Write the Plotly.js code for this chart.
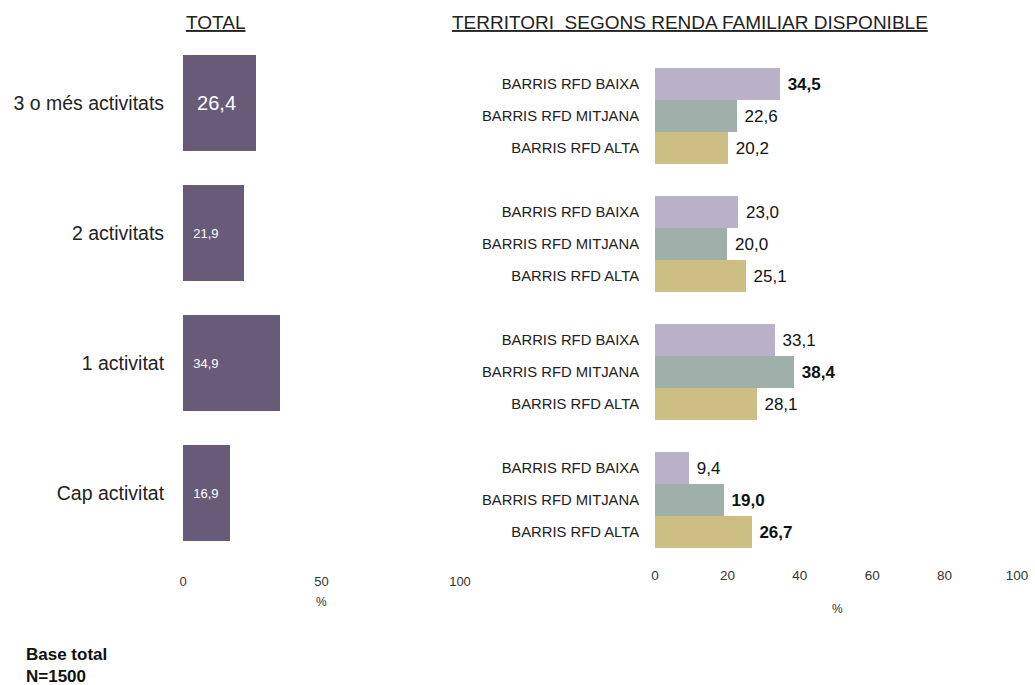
<!DOCTYPE html>
<html>
<head>
<meta charset="utf-8">
<script src="https://cdn.plot.ly/plotly-3.0.1.min.js"></script>
<style>html,body{margin:0;padding:0;background:#fff;}#chart{width:1035px;height:685px;}</style>
</head>
<body>
<div id="chart"></div>
<script>
// ---- data ----
const categories = ['3 o més activitats', '2 activitats', '1 activitat', 'Cap activitat'];
const totalValues = [26.4, 21.9, 34.9, 16.9];
const seriesNames = ['BARRIS RFD BAIXA', 'BARRIS RFD MITJANA', 'BARRIS RFD ALTA'];
const baixa = [34.5, 23.0, 33.1, 9.4];
const mitjana = [22.6, 20.0, 38.4, 19.0];
const alta = [20.2, 25.1, 28.1, 26.7];
const boldBaixa = [true, false, false, false];
const boldMitjana = [false, false, true, true];
const boldAlta = [false, false, false, true];
const leftTicks = [0, 50, 100];
const rightTicks = [0, 20, 40, 60, 80, 100];

// ---- helpers ----
const FONT = 'Arial, "Liberation Sans", sans-serif';
const fmt = v => v.toFixed(1).replace('.', ',');
const NB = '\u00a0';

const seriesValues = [baixa, mitjana, alta];
const seriesBold = [boldBaixa, boldMitjana, boldAlta];
const seriesColors = ['#b9b1c7', '#9fb0aa', '#cdbe84'];

const traces = [];
traces.push({
  type: 'bar', orientation: 'h',
  x: totalValues, y: categories,
  xaxis: 'x', yaxis: 'y',
  width: 0.74,
  marker: {color: '#675b78'},
  text: totalValues.map(v => NB + NB + fmt(v)),
  textposition: 'inside', insidetextanchor: 'start', textangle: 0,
  constraintext: 'none',
  textfont: {color: '#ffffff', family: FONT, size: totalValues.map((v, i) => i === 0 ? 20 : 13)},
  hoverinfo: 'x+y', showlegend: false
});

const rightTickVals = [];
const rightTickText = [];
seriesValues.forEach((vals, s) => {
  const ys = vals.map((v, g) => g * 4 + s);
  ys.forEach(p => { rightTickVals.push(p); rightTickText.push(seriesNames[s]); });
  traces.push({
    type: 'bar', orientation: 'h',
    x: vals, y: ys,
    xaxis: 'x2', yaxis: 'y2',
    width: 1,
    name: seriesNames[s],
    marker: {color: seriesColors[s]},
    text: vals.map((v, g) => NB + (seriesBold[s][g] ? '<b>' + fmt(v) + '</b>' : fmt(v))),
    textposition: 'outside', textangle: 0, constraintext: 'none', cliponaxis: false,
    textfont: {color: '#111111', family: FONT, size: 17},
    hoverinfo: 'x', showlegend: false
  });
});

const H = 685, W = 1035;
const layout = {
  width: W, height: H,
  margin: {l: 0, r: 0, t: 0, b: 0},
  paper_bgcolor: '#ffffff', plot_bgcolor: 'rgba(0,0,0,0)',
  font: {family: FONT, color: '#222222'},
  bargap: 0,
  xaxis: {
    domain: [183 / W, 460 / W], range: [0, 100],
    tickvals: leftTicks, ticktext: leftTicks.map(String),
    showgrid: false, zeroline: false, showline: false,
    ticks: 'outside', ticklen: 11, tickcolor: 'rgba(0,0,0,0)',
    tickfont: {size: 13, color: '#333333'}, anchor: 'y', fixedrange: true
  },
  yaxis: {
    domain: [1 - 558 / H, 1 - 38 / H],
    type: 'category', range: [3.5, -0.5],
    showgrid: false, zeroline: false, showline: false,
    ticks: 'outside', ticklen: 14, tickcolor: 'rgba(0,0,0,0)',
    tickfont: {size: 19.5, color: '#222222'}, anchor: 'x', fixedrange: true
  },
  xaxis2: {
    domain: [655 / W, 1017 / W], range: [0, 100],
    tickvals: rightTicks, ticktext: rightTicks.map(String),
    showgrid: false, zeroline: false, showline: false,
    ticks: 'outside', ticklen: 15, tickcolor: 'rgba(0,0,0,0)',
    tickfont: {size: 13.5, color: '#333333'}, anchor: 'y2', fixedrange: true
  },
  yaxis2: {
    domain: [1 - 548 / H, 1 - 68 / H],
    range: [14.5, -0.5],
    tickvals: rightTickVals, ticktext: rightTickText,
    showgrid: false, zeroline: false, showline: false,
    ticks: 'outside', ticklen: 12, tickcolor: 'rgba(0,0,0,0)',
    tickfont: {size: 14.8, color: '#222222'}, anchor: 'x2', fixedrange: true
  },
  annotations: [
    {text: '<u>TOTAL</u>', xref: 'paper', yref: 'paper', x: 215 / W, y: 1 - 22 / H,
     showarrow: false, font: {size: 19, color: '#222222'}, xanchor: 'center', yanchor: 'middle'},
    {text: '<u>TERRITORI  SEGONS RENDA FAMILIAR DISPONIBLE</u>', xref: 'paper', yref: 'paper', x: 690 / W, y: 1 - 22 / H,
     showarrow: false, font: {size: 19, color: '#222222'}, xanchor: 'center', yanchor: 'middle'},
    {text: '%', xref: 'paper', yref: 'paper', x: 321 / W, y: 1 - 602 / H,
     showarrow: false, font: {size: 12, color: '#333333'}, xanchor: 'center', yanchor: 'middle'},
    {text: '%', xref: 'paper', yref: 'paper', x: 837 / W, y: 1 - 609 / H,
     showarrow: false, font: {size: 12, color: '#333333'}, xanchor: 'center', yanchor: 'middle'},
    {text: '<b>Base total</b><br><b>N=1500</b>', xref: 'paper', yref: 'paper', x: 24 / W, y: 1 - 665 / H,
     showarrow: false, font: {size: 17, color: '#111111'}, xanchor: 'left', yanchor: 'middle', align: 'left'}
  ]
};

Plotly.newPlot('chart', traces, layout, {displayModeBar: false, staticPlot: true});
</script>
</body>
</html>
